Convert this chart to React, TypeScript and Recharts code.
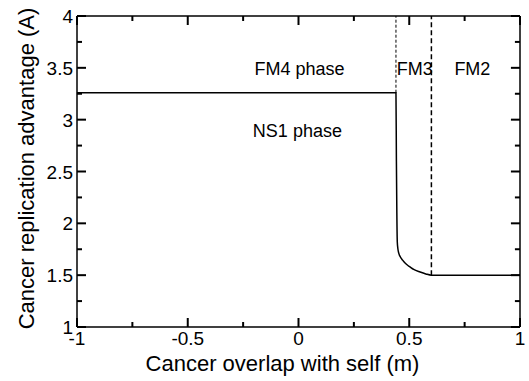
import { LineChart, Line, XAxis, YAxis, ReferenceDot, ReferenceLine } from 'recharts'

// phase boundary
const boundaryX = [-1, 0.44, 0.442, 0.444, 0.446, 0.449, 0.453, 0.46, 0.47, 0.48, 0.49, 0.503, 0.52, 0.549, 0.575, 0.6, 1]
const boundaryY = [3.26, 3.26, 2.6, 2.1, 1.82, 1.75, 1.71, 1.675, 1.645, 1.62, 1.6, 1.58, 1.555, 1.53, 1.512, 1.5, 1.5]

const fm3X = [0.44, 0.44]
const fm3Y = [3.26, 4]
const fm2X = [0.6, 0.6]
const fm2Y = [1.5, 4]

const xTicks = [-1, -0.75, -0.5, -0.25, 0, 0.25, 0.5, 0.75, 1]
const yTicks = [1, 1.25, 1.5, 1.75, 2, 2.25, 2.5, 2.75, 3, 3.25, 3.5, 3.75, 4]

const phaseLabels = [
  { text: 'FM4 phase', x: 0.005, y: 3.49 },
  { text: 'NS1 phase', x: -0.005, y: 2.89 },
  { text: 'FM3', x: 0.525, y: 3.49 },
  { text: 'FM2', x: 0.785, y: 3.49 },
]

const toPoints = (xs: number[], ys: number[]) => xs.map((x, i) => ({ x, y: ys[i] }))

const FONT = '"Liberation Sans", Arial, Helvetica, sans-serif'
const isMajor = (v: number) => Math.abs(v * 2 - Math.round(v * 2)) < 1e-6
const fmt = (v: number) => String(v)

const X_MIN = -1, X_MAX = 1, Y_MIN = 1, Y_MAX = 4
// inward tick lengths in data units (~9px major, ~5px minor) for top/right
const tickLenY = (v: number) => (isMajor(v) ? 0.087 : 0.048)
const tickLenX = (v: number) => (isMajor(v) ? 0.041 : 0.023)

const renderBottomTick = ({ x, y, payload }: any) => {
  const major = isMajor(payload.value)
  return (
    <g>
      <path d={`M${x},${y}L${x},${y - (major ? 9 : 5)}`} stroke="#000" strokeWidth={2} fill="none" />
      {major && (
        <text x={x} y={y + 18} textAnchor="middle" fontSize={19} fill="#000" fontFamily={FONT}>
          {fmt(payload.value)}
        </text>
      )}
    </g>
  )
}

const renderLeftTick = ({ x, y, payload }: any) => {
  const major = isMajor(payload.value)
  return (
    <g>
      <path d={`M${x},${y}L${x + (major ? 9 : 5)},${y}`} stroke="#000" strokeWidth={2} fill="none" />
      {major && (
        <text x={x - 4} y={y + 7} textAnchor="end" fontSize={19} fill="#000" fontFamily={FONT}>
          {fmt(payload.value)}
        </text>
      )}
    </g>
  )
}

const edgeStyle = { stroke: '#000', strokeWidth: 1.5 }
const tickStyle = { stroke: '#000', strokeWidth: 2 }

export default function App() {
  return (
    <div style={{ position: 'absolute', left: 0, top: 0, background: '#fff', fontFamily: FONT }}>
      <LineChart width={529} height={381} margin={{ top: 16, right: 9, left: 0, bottom: 0 }}>
        <XAxis
          type="number"
          dataKey="x"
          domain={[X_MIN, X_MAX]}
          ticks={xTicks}
          interval={0}
          allowDataOverflow
          height={54}
          tickSize={0}
          tickMargin={0}
          tickLine={false}
          tick={renderBottomTick}
          axisLine={{ stroke: '#000', strokeWidth: 1.5 }}
          label={{
            content: ({ viewBox }: any) => (
              <text
                x={viewBox.x + viewBox.width / 2 - 16}
                y={viewBox.y + 44}
                textAnchor="middle"
                fontSize={22}
                fill="#000"
                fontFamily={FONT}
              >
                Cancer overlap with self (m)
              </text>
            ),
          }}
        />
        <YAxis
          type="number"
          domain={[Y_MIN, Y_MAX]}
          ticks={yTicks}
          interval={0}
          allowDataOverflow
          width={77}
          tickSize={0}
          tickMargin={0}
          tickLine={false}
          tick={renderLeftTick}
          axisLine={{ stroke: '#000', strokeWidth: 1.5 }}
          label={{
            content: ({ viewBox }: any) => {
              const cx = viewBox.x + 26
              const cy = viewBox.y + viewBox.height / 2 - 3
              return (
                <text
                  x={cx}
                  y={cy}
                  transform={`rotate(-90 ${cx} ${cy})`}
                  textAnchor="middle"
                  dominantBaseline="central"
                  fontSize={22}
                  fill="#000"
                  fontFamily={FONT}
                >
                  Cancer replication advantage (A)
                </text>
              )
            },
          }}
        />
        {/* box: top and right edges */}
        <ReferenceLine y={Y_MAX} {...edgeStyle} ifOverflow="visible" />
        <ReferenceLine x={X_MAX} {...edgeStyle} ifOverflow="visible" />
        {/* mirrored inward ticks on top and right */}
        {xTicks.map((t) => (
          <ReferenceLine key={`t${t}`} segment={[{ x: t, y: Y_MAX }, { x: t, y: Y_MAX - tickLenY(t) }]} {...tickStyle} ifOverflow="visible" />
        ))}
        {yTicks.map((t) => (
          <ReferenceLine key={`r${t}`} segment={[{ x: X_MAX, y: t }, { x: X_MAX - tickLenX(t), y: t }]} {...tickStyle} ifOverflow="visible" />
        ))}
        <Line
          data={toPoints(fm3X, fm3Y)}
          dataKey="y"
          type="linear"
          stroke="#000"
          strokeWidth={1}
          strokeDasharray="3 2"
          dot={false}
          isAnimationActive={false}
        />
        <Line
          data={toPoints(fm2X, fm2Y)}
          dataKey="y"
          type="linear"
          stroke="#000"
          strokeWidth={1.5}
          strokeDasharray="5 3"
          dot={false}
          isAnimationActive={false}
        />
        <Line
          data={toPoints(boundaryX, boundaryY)}
          dataKey="y"
          type="monotone"
          stroke="#000"
          strokeWidth={1.5}
          dot={false}
          isAnimationActive={false}
        />
        {phaseLabels.map((p) => (
          <ReferenceDot
            key={p.text}
            x={p.x}
            y={p.y}
            r={0}
            fill="none"
            stroke="none"
            label={{ value: p.text, position: 'center', fontSize: 18, fill: '#000', fontFamily: FONT }}
          />
        ))}
      </LineChart>
    </div>
  )
}
